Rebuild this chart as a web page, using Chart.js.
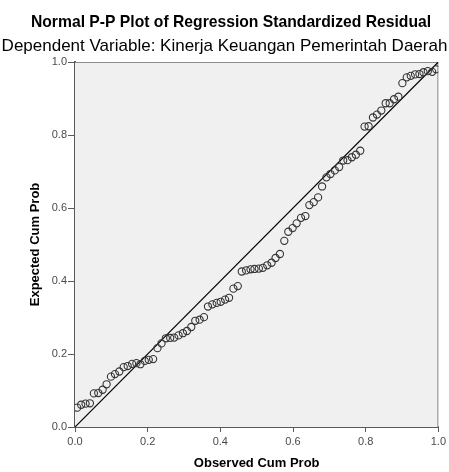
<!DOCTYPE html>
<html>
<head>
<meta charset="utf-8">
<script src="https://cdn.jsdelivr.net/npm/chart.js@4"></script>
<style>
  html, body { margin: 0; padding: 0; background: #ffffff; }
  #chart { display: block; }
</style>
</head>
<body>
<canvas id="chart" width="449" height="472"></canvas>
<script>
// observed cumulative probability (x) and expected cumulative probability (y)
const observedCumProb = [
  0.006, 0.017, 0.029, 0.041, 0.052, 0.064, 0.076, 0.087, 0.099, 0.110,
  0.122, 0.134, 0.145, 0.157, 0.169, 0.180, 0.192, 0.203, 0.215, 0.227,
  0.238, 0.250, 0.262, 0.273, 0.285, 0.297, 0.308, 0.320, 0.331, 0.343,
  0.355, 0.366, 0.378, 0.390, 0.401, 0.413, 0.424, 0.436, 0.448, 0.459,
  0.471, 0.483, 0.494, 0.506, 0.517, 0.529, 0.541, 0.552, 0.564, 0.576,
  0.587, 0.599, 0.610, 0.622, 0.634, 0.645, 0.657, 0.669, 0.680, 0.692,
  0.703, 0.715, 0.727, 0.738, 0.750, 0.762, 0.773, 0.785, 0.797, 0.808,
  0.820, 0.831, 0.843, 0.855, 0.866, 0.878, 0.890, 0.901, 0.913, 0.924,
  0.936, 0.948, 0.959, 0.971, 0.983, 0.994
];
const expectedCumProb = [
  0.053, 0.061, 0.064, 0.065, 0.092, 0.093, 0.102, 0.117, 0.138, 0.145,
  0.152, 0.164, 0.167, 0.173, 0.175, 0.172, 0.181, 0.184, 0.186, 0.216,
  0.229, 0.243, 0.244, 0.245, 0.251, 0.257, 0.263, 0.274, 0.291, 0.294,
  0.301, 0.330, 0.336, 0.340, 0.343, 0.349, 0.354, 0.379, 0.386, 0.426,
  0.429, 0.432, 0.433, 0.434, 0.436, 0.443, 0.450, 0.463, 0.474, 0.510,
  0.535, 0.545, 0.558, 0.573, 0.578, 0.608, 0.616, 0.629, 0.659, 0.684,
  0.693, 0.703, 0.712, 0.730, 0.731, 0.739, 0.746, 0.757, 0.823, 0.824,
  0.848, 0.856, 0.867, 0.887, 0.887, 0.898, 0.905, 0.942, 0.958, 0.962,
  0.966, 0.967, 0.972, 0.975, 0.973, 0.980
];
// diagonal reference line
const refLine = [0, 1];
const tickValues = [0, 0.2, 0.4, 0.6, 0.8, 1.0];

const titleText = "Normal P-P Plot of Regression Standardized Residual";
const subtitleText = "Dependent Variable: Kinerja Keuangan Pemerintah Daerah";
const xTitle = "Observed Cum Prob";
const yTitle = "Expected Cum Prob";

const FONT = "'Liberation Sans', Arial, sans-serif";
const axisGray = "#5a5a5a";

const points = observedCumProb.map((x, i) => ({ x: x, y: expectedCumProb[i] }));
const linePts = refLine.map((v) => ({ x: v, y: v }));

// plot background + top/right frame
const plotBg = {
  id: "plotBg",
  beforeDatasetsDraw(chart) {
    const { ctx, chartArea: a } = chart;
    ctx.save();
    ctx.fillStyle = "#f0f0f0";
    ctx.fillRect(a.left, a.top, a.right - a.left, a.bottom - a.top);
    ctx.strokeStyle = "#8c8c8c";
    ctx.lineWidth = 1;
    ctx.beginPath();
    ctx.moveTo(a.left, a.top + 0.5);
    ctx.lineTo(a.right - 0.5, a.top + 0.5);
    ctx.lineTo(a.right - 0.5, a.bottom);
    ctx.stroke();
    ctx.restore();
  },
};

// the two title lines (SPSS puts them slightly off-centre, so drawn by hand)
const titles = {
  id: "titles",
  afterDraw(chart) {
    const ctx = chart.ctx;
    ctx.save();
    ctx.fillStyle = "#000000";
    ctx.textAlign = "center";
    ctx.textBaseline = "alphabetic";
    ctx.font = "bold 15.7px " + FONT;
    ctx.fillText(titleText, 231, 27);
    ctx.font = "17px " + FONT;
    ctx.fillText(subtitleText, 224.5, 51);
    ctx.restore();
  },
};

function axisOpts(title, isX) {
  return {
    type: "linear",
    min: 0,
    max: 1,
    afterBuildTicks: (scale) => {
      scale.ticks = tickValues.map((v) => ({ value: v }));
    },
    afterFit: (scale) => {
      if (isX) scale.height = 45;
      else scale.width = 75;
    },
    ticks: {
      callback: (v) => Number(v).toFixed(1),
      font: { family: FONT, size: 11 },
      color: "#4a4a4a",
      padding: isX ? 3 : 1,
      maxRotation: 0,
    },
    grid: {
      drawOnChartArea: false,
      drawTicks: true,
      tickLength: isX ? 5 : 7,
      tickColor: axisGray,
      tickWidth: 1,
    },
    border: { display: true, color: axisGray, width: 2 },
    title: {
      display: true,
      text: title,
      color: "#000000",
      font: { family: FONT, size: 13, weight: "bold" },
      padding: isX ? { top: 0, bottom: 1 } : { top: 28, bottom: 0 },
    },
  };
}

new Chart(document.getElementById("chart"), {
  type: "scatter",
  data: {
    datasets: [
      {
        label: "Residual",
        data: points,
        pointStyle: "circle",
        pointRadius: 3.6,
        pointBorderWidth: 1.1,
        pointBorderColor: "#333333",
        pointBackgroundColor: "rgba(0,0,0,0)",
        showLine: false,
      },
      {
        type: "line",
        label: "Reference",
        data: linePts,
        borderColor: "#000000",
        borderWidth: 1.2,
        pointRadius: 0,
        fill: false,
      },
    ],
  },
  options: {
    responsive: false,
    animation: false,
    devicePixelRatio: 1,
    layout: { padding: { left: 0, right: 9, top: 62, bottom: 0 } },
    plugins: {
      legend: { display: false },
      tooltip: { enabled: false },
    },
    scales: {
      x: axisOpts(xTitle, true),
      y: axisOpts(yTitle, false),
    },
  },
  plugins: [plotBg, titles],
});
</script>
</body>
</html>
